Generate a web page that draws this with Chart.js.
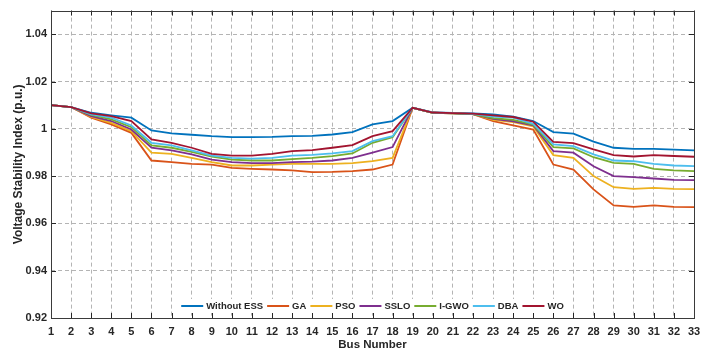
<!DOCTYPE html>
<html>
<head>
<meta charset="utf-8">
<script src="https://cdn.jsdelivr.net/npm/chart.js@4/dist/chart.umd.min.js"></script>
<style>
  html, body { margin: 0; padding: 0; background: #fff; }
  #wrap { width: 716px; height: 353px; }
</style>
</head>
<body>
<div id="wrap"><canvas id="vsi" width="716" height="353"></canvas></div>
<script>
const buses = [1, 2, 3, 4, 5, 6, 7, 8, 9, 10, 11, 12, 13, 14, 15, 16, 17,
  18, 19, 20, 21, 22, 23, 24, 25, 26, 27, 28, 29, 30, 31, 32, 33];

const seriesNames = ['Without ESS', 'GA', 'PSO', 'SSLO', 'I-GWO', 'DBA', 'WO'];
const seriesColors = ['#0072BD', '#D95319', '#EDB120', '#7E2F8E', '#77AC30', '#4DBEEE', '#A2142F'];

const withoutESS = [1.0100, 1.0092, 1.0068, 1.0057, 1.0047, 0.9993, 0.9981, 0.9975, 0.9969, 0.9965, 0.9965,
  0.9966, 0.9969, 0.9970, 0.9976, 0.9986, 1.0019, 1.0033, 1.0089, 1.0070, 1.0067, 1.0065, 1.0061, 1.0052,
  1.0033, 0.9986, 0.9980, 0.9946, 0.9920, 0.9915, 0.9915, 0.9912, 0.9909];
const ga = [1.0100, 1.0092, 1.0047, 1.0019, 0.9983, 0.9866, 0.9859, 0.9852, 0.9849, 0.9835, 0.9831,
  0.9828, 0.9824, 0.9817, 0.9818, 0.9821, 0.9828, 0.9849, 1.0089, 1.0068, 1.0066, 1.0062, 1.0033, 1.0015,
  0.9997, 0.9849, 0.9828, 0.9744, 0.9676, 0.9670, 0.9676, 0.9670, 0.9669];
const pso = [1.0100, 1.0092, 1.0050, 1.0025, 0.9990, 0.9899, 0.9894, 0.9877, 0.9859, 0.9845, 0.9845,
  0.9849, 0.9852, 0.9852, 0.9852, 0.9855, 0.9863, 0.9877, 1.0089, 1.0068, 1.0065, 1.0062, 1.0038, 1.0028,
  1.0010, 0.9889, 0.9877, 0.9800, 0.9753, 0.9746, 0.9750, 0.9746, 0.9745];
const sslo = [1.0100, 1.0092, 1.0054, 1.0033, 0.9997, 0.9920, 0.9909, 0.9892, 0.9870, 0.9859, 0.9855,
  0.9855, 0.9859, 0.9861, 0.9866, 0.9877, 0.9899, 0.9923, 1.0089, 1.0068, 1.0065, 1.0062, 1.0042, 1.0032,
  1.0015, 0.9906, 0.9899, 0.9842, 0.9800, 0.9796, 0.9790, 0.9784, 0.9783];
const igwo = [1.0100, 1.0092, 1.0059, 1.0040, 1.0007, 0.9930, 0.9920, 0.9903, 0.9883, 0.9870, 0.9866,
  0.9866, 0.9872, 0.9877, 0.9885, 0.9896, 0.9941, 0.9965, 1.0089, 1.0068, 1.0065, 1.0062, 1.0045, 1.0038,
  1.0018, 0.9923, 0.9917, 0.9880, 0.9856, 0.9852, 0.9831, 0.9824, 0.9821];
const dba = [1.0100, 1.0092, 1.0061, 1.0047, 1.0014, 0.9941, 0.9930, 0.9909, 0.9887, 0.9877, 0.9874,
  0.9877, 0.9887, 0.9890, 0.9896, 0.9906, 0.9948, 0.9969, 1.0089, 1.0069, 1.0066, 1.0063, 1.0052, 1.0047,
  1.0021, 0.9934, 0.9927, 0.9892, 0.9866, 0.9863, 0.9852, 0.9845, 0.9842];
const wo = [1.0100, 1.0092, 1.0065, 1.0054, 1.0033, 0.9955, 0.9941, 0.9920, 0.9894, 0.9887, 0.9887,
  0.9894, 0.9906, 0.9910, 0.9920, 0.9931, 0.9969, 0.9990, 1.0089, 1.0069, 1.0066, 1.0064, 1.0057, 1.0050,
  1.0030, 0.9945, 0.9940, 0.9913, 0.9889, 0.9883, 0.9889, 0.9885, 0.9882];

const yMin = 0.92, yMax = 1.05, yStep = 0.02;

const allSeries = [withoutESS, ga, pso, sslo, igwo, dba, wo];
const TXT = '#262626';
const FONT = "'Liberation Sans', Arial, sans-serif";

// box around the axes with small inward ticks on every side
const framePlugin = {
  id: 'frame',
  afterDraw(chart) {
    const { ctx, chartArea: a, scales } = chart;
    const len = 5;
    ctx.save();
    ctx.strokeStyle = TXT;
    ctx.lineWidth = 1;
    ctx.beginPath();
    scales.x.ticks.forEach((t, i) => {
      const px = Math.round(scales.x.getPixelForTick(i)) + 0.5;
      ctx.moveTo(px, a.bottom); ctx.lineTo(px, a.bottom - len);
      ctx.moveTo(px, a.top); ctx.lineTo(px, a.top + len);
    });
    scales.y.ticks.forEach(t => {
      const py = Math.round(scales.y.getPixelForValue(t.value)) + 0.5;
      ctx.moveTo(a.left, py); ctx.lineTo(a.left + len, py);
      ctx.moveTo(a.right, py); ctx.lineTo(a.right - len, py);
    });
    ctx.stroke();
    ctx.strokeStyle = '#3a3a3a';
    ctx.strokeRect(Math.round(a.left) + 0.5, Math.round(a.top) + 0.5,
      Math.round(a.right - a.left), Math.round(a.bottom - a.top));
    ctx.restore();
  }
};

// horizontal legend sitting inside the plot, near the bottom
const innerLegend = {
  id: 'innerLegend',
  afterDatasetsDraw(chart) {
    const { ctx, chartArea: a } = chart;
    const sample = 22, gapText = 3, gapItem = 4;
    ctx.save();
    ctx.font = 'bold 9.5px ' + FONT;
    const items = chart.data.datasets.map(ds => ({
      label: ds.label, color: ds.borderColor, w: ctx.measureText(ds.label).width
    }));
    const total = items.reduce((s, it) => s + sample + gapText + it.w, 0) + gapItem * (items.length - 1);
    let x = (a.left + a.right) / 2 - total / 2;
    const y = a.bottom - 12;
    ctx.fillStyle = '#fff';
    ctx.fillRect(x - 3, y - 7, total + 6, 14);
    ctx.textBaseline = 'middle';
    items.forEach(it => {
      ctx.strokeStyle = it.color;
      ctx.lineWidth = 2;
      ctx.beginPath();
      ctx.moveTo(x, y); ctx.lineTo(x + sample, y);
      ctx.stroke();
      x += sample + gapText;
      ctx.fillStyle = TXT;
      ctx.fillText(it.label, x, y + 0.5);
      x += it.w + gapItem;
    });
    ctx.restore();
  }
};

new Chart(document.getElementById('vsi'), {
  type: 'line',
  data: {
    labels: buses,
    datasets: allSeries.map((vals, i) => ({
      label: seriesNames[i],
      data: vals,
      borderColor: seriesColors[i],
      backgroundColor: seriesColors[i],
      borderWidth: 1.8,
      pointRadius: 0,
      tension: 0,
      fill: false,
      order: allSeries.length - i
    }))
  },
  options: {
    responsive: false,
    animation: false,
    layout: { padding: { top: 8, right: 22, left: 0, bottom: 0 } },
    plugins: {
      legend: { display: false },
      tooltip: { enabled: false }
    },
    scales: {
      x: {
        type: 'category',
        offset: false,
        grid: { color: '#b4b4b4', lineWidth: 1, drawTicks: false },
        border: { display: false, dash: [4, 3] },
        ticks: {
          color: TXT, padding: 7, maxRotation: 0, autoSkip: false,
          font: { family: FONT, size: 11, weight: 'bold' }
        },
        title: {
          display: true, text: 'Bus Number', color: TXT,
          font: { family: FONT, size: 11.5, weight: 'bold' },
          padding: { top: 0, bottom: 1 }
        },
        afterFit(scale) { scale.height = 35; }
      },
      y: {
        min: yMin,
        max: yMax,
        grid: { color: '#b4b4b4', lineWidth: 1, drawTicks: false },
        border: { display: false, dash: [4, 3] },
        ticks: {
          stepSize: yStep, includeBounds: false, color: TXT, padding: 4,
          font: { family: FONT, size: 11, weight: 'bold' },
          callback: v => String(+v.toFixed(2))
        },
        title: {
          display: true, text: 'Voltage Stability Index (p.u.)', color: TXT,
          font: { family: FONT, size: 12, weight: 'bold' },
          padding: { top: 11, bottom: 0 }
        },
        afterFit(scale) { scale.width = 51; }
      }
    }
  },
  plugins: [innerLegend, framePlugin]
});
</script>
</body>
</html>
